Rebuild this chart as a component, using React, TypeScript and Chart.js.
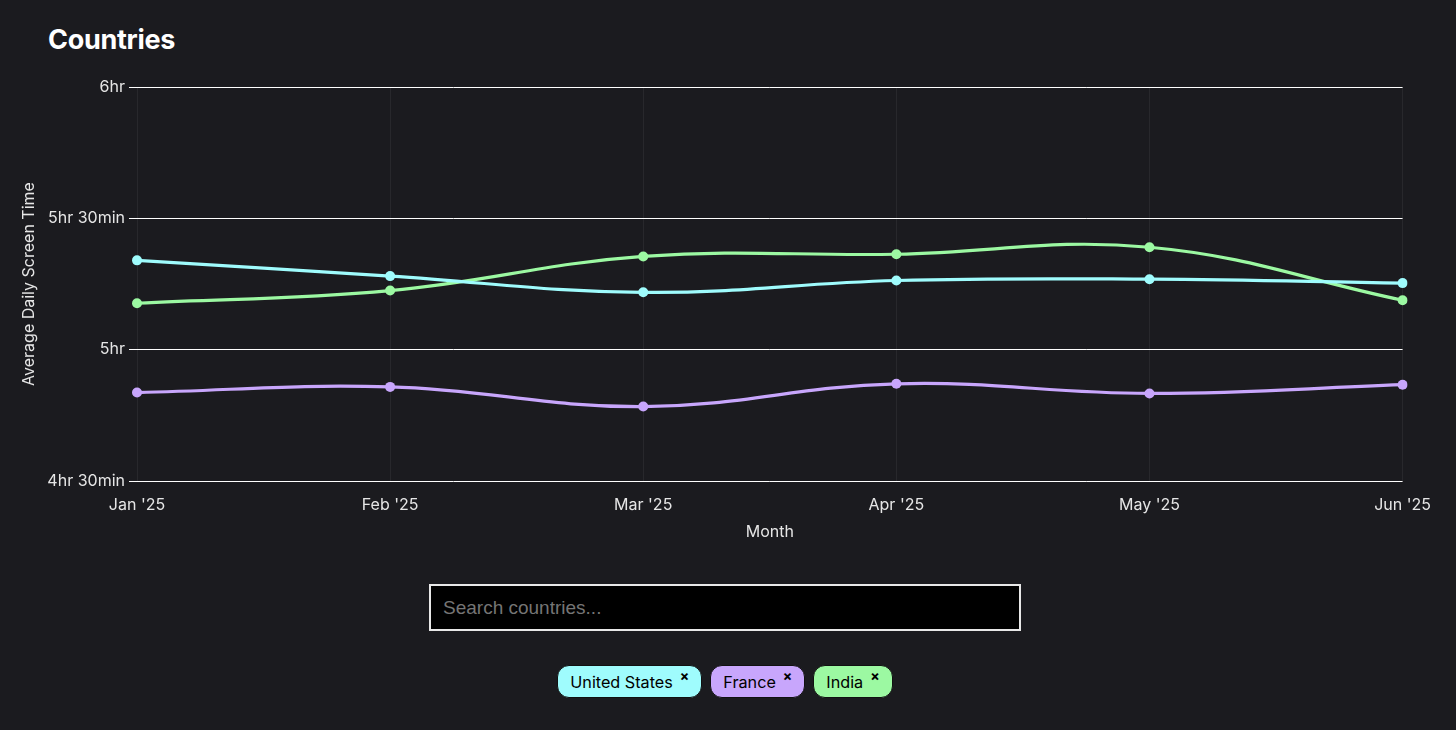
import React, { useEffect, useRef } from "react";
import { Chart, registerables } from "chart.js";

Chart.register(...registerables);

const months = ["Jan '25", "Feb '25", "Mar '25", "Apr '25", "May '25", "Jun '25"];
// average daily screen time, in minutes
const unitedStates = [320.4, 316.8, 313.1, 315.8, 316.1, 315.2];
const france = [290.2, 291.5, 287.0, 292.2, 290.0, 292.0];
const india = [310.6, 313.5, 321.3, 321.8, 323.4, 311.3];
const yMin = 270;
const yMax = 360;
const yStep = 30;

const COLORS = {
  us: "#9ffcfd",
  fr: "#c8a6fc",
  in: "#9cf9a2",
};

const countries = [
  { name: "United States", color: COLORS.us },
  { name: "France", color: COLORS.fr },
  { name: "India", color: COLORS.in },
];

function fmt(v: number) {
  const h = Math.floor(v / 60);
  const m = Math.round(v - h * 60);
  return m === 0 ? `${h}hr` : `${h}hr ${m}min`;
}

const FONT = "Inter, 'Noto Sans', sans-serif";

export default function App() {
  const ref = useRef<HTMLCanvasElement | null>(null);

  useEffect(() => {
    document.body.style.background = "#1b1b1f";
    document.body.style.margin = "8px";
    const mk = (label: string, data: number[], color: string) => ({
      label,
      data,
      borderColor: color,
      backgroundColor: color,
      pointBackgroundColor: color,
      pointBorderColor: color,
      pointRadius: 5,
      pointBorderWidth: 0,
      borderWidth: 3.2,
      tension: 0.4,
      fill: false,
    });
    const chart = new Chart(ref.current!, {
      type: "line",
      data: {
        labels: months,
        datasets: [
          mk("United States", unitedStates, COLORS.us),
          mk("France", france, COLORS.fr),
          mk("India", india, COLORS.in),
        ],
      },
      options: {
        animation: false,
        responsive: true,
        maintainAspectRatio: false,
        layout: { padding: { top: 17, right: 0, left: 0, bottom: 0 } },
        plugins: { legend: { display: false }, tooltip: { enabled: false } },
        scales: {
          x: {
            grid: { color: "rgba(255,255,255,0.06)", drawTicks: false },
            border: { display: false },
            ticks: { color: "#e6e6e6", font: { family: FONT, size: 16 }, padding: 15, maxRotation: 0 },
            title: {
              display: true,
              text: "Month",
              color: "#e6e6e6",
              font: { family: FONT, size: 16 },
              padding: { top: 4, bottom: 4 },
            },
            afterFit: (s: any) => {
              s.height = 65;
            },
          },
          y: {
            min: yMin,
            max: yMax,
            grid: { color: "#ffffff", lineWidth: 1, tickLength: 8 },
            border: { display: false },
            ticks: {
              stepSize: yStep,
              color: "#e6e6e6",
              font: { family: FONT, size: 16 },
              padding: 4,
              callback: (v: any) => fmt(Number(v)),
            },
            title: {
              display: true,
              text: "Average Daily Screen Time",
              color: "#e6e6e6",
              font: { family: FONT, size: 16 },
            },
            afterFit: (s: any) => {
              s.width = 121;
            },
          },
        },
      },
    });
    return () => chart.destroy();
  }, []);

  return (
    <div style={{ position: "relative", width: 1440, height: 714, fontFamily: FONT, color: "#fff" }}>
      <div
        style={{
          position: "absolute",
          left: 40,
          top: 15,
          fontSize: 27,
          fontWeight: 700,
          letterSpacing: -0.3,
        }}
      >
        Countries
      </div>
      <div style={{ position: "absolute", left: 8, top: 62, width: 1430, height: 476 }}>
        <canvas ref={ref} />
      </div>
      <input
        placeholder="Search countries..."
        style={{
          position: "absolute",
          left: 421,
          top: 576,
          width: 592,
          height: 47,
          boxSizing: "border-box",
          background: "#000",
          border: "2px solid #e8e8e8",
          color: "#fff",
          padding: "0 12px",
          fontSize: 19,
          fontFamily: "'Liberation Sans', Arial, sans-serif",
          outline: "none",
        }}
      />
      <div
        style={{
          position: "absolute",
          left: 0,
          top: 657,
          width: 1434,
          display: "flex",
          justifyContent: "center",
          gap: 8,
        }}
      >
        {countries.map((c) => (
          <div
            key={c.name}
            style={{
              background: c.color,
              color: "#000",
              border: "1px solid #111",
              borderRadius: 12,
              height: 33,
              boxSizing: "border-box",
              padding: "0 12px 0 12px",
              display: "flex",
              alignItems: "center",
              fontSize: 16.2,
              position: "relative",
            }}
          >
            <span>{c.name}</span>
            <span
              style={{
                fontSize: 14,
                fontWeight: 700,
                marginLeft: 7,
                alignSelf: "flex-start",
                marginTop: 1,
              }}
            >
              ×
            </span>
          </div>
        ))}
      </div>
    </div>
  );
}
